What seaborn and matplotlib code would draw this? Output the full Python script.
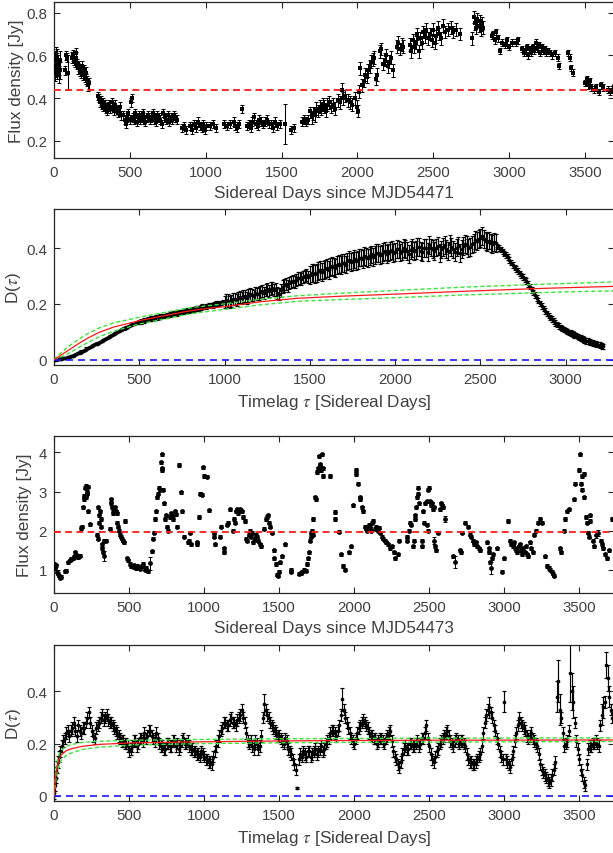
import numpy as np
import matplotlib
matplotlib.use("Agg")
import matplotlib.pyplot as plt
import seaborn as sns
from matplotlib.ticker import FuncFormatter

# ---------------------------------------------------------------------------
# Light curve 1 (days since MJD54471): flux density [Jy] and 1-sigma errors
# ---------------------------------------------------------------------------
DAYS1 = [
    2, 5, 8, 11, 14, 17, 20, 23, 26, 30, 34, 38, 42,
    72, 78, 85, 92,
    118, 124, 130, 136, 142, 148, 154, 160, 166, 172, 178, 184, 190, 196, 202, 208, 214, 220, 226, 232,
    292, 297, 302, 308, 314, 320, 326, 333, 340, 348, 356, 364, 372, 380, 388, 396, 404, 412, 420, 428, 436, 444,
    458, 466, 474, 482, 490, 498, 505, 512, 520, 528, 536, 544, 552, 560, 568, 576, 584, 592, 600, 610,
    620, 630, 640, 650, 660, 670, 680, 690, 700, 710, 720, 730, 740, 750, 760, 770, 780, 790, 800, 810,
    845, 858, 872, 898, 912, 925, 938, 952, 965, 975, 985, 995, 1005, 1030, 1048, 1066, 1118, 1140, 1160, 1185,
    1196, 1207, 1218, 1240, 1272, 1285, 1296, 1308, 1320, 1330, 1342, 1354, 1366, 1378, 1390, 1402, 1415, 1428, 1442, 1456,
    1470, 1490, 1524, 1565, 1580, 1635, 1648, 1662, 1675, 1690,
    1700, 1710, 1720, 1730, 1740, 1750, 1760, 1770, 1780, 1790, 1800, 1812, 1825, 1840, 1855, 1870, 1885, 1895, 1905, 1920,
    1935, 1950, 1965, 1985, 1995, 2005, 2012,
    2016, 2030, 2040, 2050, 2060, 2070, 2080, 2090, 2100, 2110, 2125, 2132, 2150, 2158, 2170, 2180, 2190, 2200, 2210, 2220,
    2232, 2260, 2270, 2280, 2292, 2300,
    2345, 2355, 2365, 2375, 2385, 2395, 2405, 2415, 2425, 2435, 2445, 2455, 2468, 2478, 2490, 2500, 2510, 2520, 2530, 2540,
    2552, 2565, 2580, 2595, 2615, 2630, 2650, 2675,
    2753, 2768, 2775, 2782, 2790, 2798, 2805, 2812, 2820, 2830,
    2885, 2895, 2905, 2915, 2925, 2940, 2955, 2970, 2985, 3000, 3020, 3045, 3060, 3085, 3095, 3105, 3115, 3125, 3135, 3145,
    3155, 3165, 3175, 3185, 3195, 3205, 3215, 3225, 3235, 3245, 3255, 3270, 3285, 3300, 3320, 3330, 3390, 3400, 3410, 3420,
    3500, 3510, 3520, 3530, 3540, 3560, 3575, 3590, 3605, 3620, 3650, 3665, 3680, 3690,
]
FLUX1 = [
    0.55, 0.52, 0.58, 0.60, 0.54, 0.57, 0.53, 0.59, 0.56, 0.51, 0.55, 0.58, 0.53,
    0.53, 0.60, 0.59, 0.52,
    0.59, 0.60, 0.58, 0.57, 0.59, 0.61, 0.56, 0.54, 0.55, 0.53, 0.52, 0.55, 0.51, 0.53, 0.50, 0.52, 0.49, 0.48, 0.46, 0.47,
    0.41, 0.40, 0.38, 0.39, 0.37, 0.38, 0.36, 0.37, 0.35, 0.34, 0.36, 0.37, 0.35, 0.38, 0.36, 0.34, 0.37, 0.35, 0.33, 0.34, 0.36, 0.32,
    0.32, 0.30, 0.28, 0.31, 0.33, 0.30, 0.38, 0.40, 0.31, 0.30, 0.33, 0.29, 0.31, 0.32, 0.30, 0.31, 0.33, 0.30, 0.29, 0.31,
    0.32, 0.30, 0.31, 0.33, 0.30, 0.29, 0.32, 0.31, 0.30, 0.28, 0.33, 0.31, 0.30, 0.32, 0.29, 0.31, 0.30, 0.32, 0.31, 0.30,
    0.26, 0.27, 0.25, 0.27, 0.25, 0.28, 0.26, 0.29, 0.27, 0.26, 0.28, 0.25, 0.27, 0.27, 0.28, 0.26, 0.28, 0.27, 0.28, 0.29,
    0.27, 0.26, 0.28, 0.35, 0.27, 0.28, 0.26, 0.29, 0.31, 0.28, 0.27, 0.30, 0.29, 0.28, 0.29, 0.30, 0.28, 0.28, 0.26, 0.29,
    0.27, 0.28, 0.28, 0.25, 0.26, 0.29, 0.30, 0.29, 0.30, 0.34,
    0.31, 0.33, 0.32, 0.35, 0.34, 0.36, 0.35, 0.37, 0.36, 0.34, 0.37, 0.38, 0.36, 0.37, 0.35, 0.39, 0.38, 0.44, 0.40, 0.41,
    0.39, 0.38, 0.37, 0.40, 0.36, 0.34, 0.43,
    0.54, 0.46, 0.48, 0.51, 0.50, 0.53, 0.55, 0.57, 0.58, 0.59, 0.49, 0.51, 0.62, 0.63, 0.56, 0.58, 0.60, 0.55, 0.57, 0.59,
    0.53, 0.64, 0.66, 0.63, 0.65, 0.64,
    0.65, 0.62, 0.67, 0.64, 0.66, 0.70, 0.62, 0.68, 0.66, 0.71, 0.69, 0.72, 0.68, 0.70, 0.67, 0.72, 0.66, 0.69, 0.73, 0.70,
    0.68, 0.74, 0.71, 0.72, 0.73, 0.71, 0.72, 0.70,
    0.68, 0.78, 0.75, 0.73, 0.77, 0.74, 0.76, 0.72, 0.75, 0.73,
    0.69, 0.70, 0.67, 0.71, 0.68, 0.62, 0.66, 0.65, 0.67, 0.64, 0.66, 0.66, 0.67, 0.63, 0.61, 0.62, 0.64, 0.60, 0.63, 0.61,
    0.64, 0.62, 0.66, 0.63, 0.65, 0.61, 0.64, 0.62, 0.63, 0.61, 0.62, 0.61, 0.60, 0.61, 0.59, 0.55, 0.61, 0.59, 0.54, 0.52,
    0.47, 0.49, 0.46, 0.48, 0.45, 0.44, 0.45, 0.43, 0.46, 0.45, 0.44, 0.43, 0.44, 0.45,
]
ERR1 = ([0.04] * 13 + [0.02, 0.02, 0.02, 0.08] + [0.025] * 20 + [0.02] * 22 + [0.02] * 40
        + [0.02] * 42 + [0.095] + [0.02] * 7 + [0.03] * 27 + [0.03] * 26 + [0.03] * 28
        + [0.03] * 10 + [0.015] * 40 + [0.015] * 14)
MEAN1 = 0.44

# ---------------------------------------------------------------------------
# Structure function 1: D(tau) on a 10-day lag grid, plus fitted model curves
# ---------------------------------------------------------------------------
TAU2 = list(range(0, 3221, 10))
D2 = [
    0.000, 0.001, 0.002, 0.003, 0.004, 0.005, 0.006, 0.007, 0.009, 0.010,
    0.012, 0.014, 0.017, 0.020, 0.023, 0.026, 0.029, 0.032, 0.036, 0.040,
    0.043, 0.046, 0.049, 0.052, 0.055, 0.058, 0.061, 0.064, 0.068, 0.071,
    0.074, 0.077, 0.081, 0.085, 0.089, 0.092, 0.096, 0.099, 0.103, 0.106,
    0.109, 0.112, 0.115, 0.118, 0.121, 0.124, 0.127, 0.129, 0.131, 0.134,
    0.136, 0.137, 0.139, 0.141, 0.143, 0.145, 0.146, 0.147, 0.148, 0.150,
    0.152, 0.152, 0.154, 0.156, 0.157, 0.157, 0.158, 0.161, 0.162, 0.163,
    0.165, 0.164, 0.166, 0.169, 0.171, 0.170, 0.172, 0.175, 0.176, 0.175,
    0.179, 0.182, 0.180, 0.183, 0.185, 0.184, 0.187, 0.190, 0.188, 0.191,
    0.193, 0.195, 0.196, 0.194, 0.197, 0.201, 0.203, 0.200, 0.204, 0.206,
    0.207, 0.213, 0.212, 0.206, 0.211, 0.218, 0.218, 0.214, 0.221, 0.224,
    0.220, 0.226, 0.228, 0.222, 0.230, 0.235, 0.232, 0.229, 0.239, 0.236,
    0.237, 0.243, 0.245, 0.240, 0.249, 0.252, 0.247, 0.255, 0.256, 0.250,
    0.252, 0.238, 0.236, 0.248, 0.262, 0.266, 0.271, 0.265, 0.274, 0.279,
    0.282, 0.278, 0.286, 0.291, 0.294, 0.288, 0.296, 0.301, 0.303, 0.297,
    0.305, 0.310, 0.312, 0.306, 0.311, 0.318, 0.320, 0.314, 0.321, 0.326,
    0.328, 0.322, 0.331, 0.336, 0.333, 0.329, 0.340, 0.344, 0.338, 0.345,
    0.347, 0.341, 0.352, 0.356, 0.349, 0.355, 0.361, 0.354, 0.358, 0.366,
    0.366, 0.360, 0.371, 0.368, 0.365, 0.373, 0.377, 0.369, 0.374, 0.381,
    0.382, 0.375, 0.379, 0.386, 0.388, 0.378, 0.384, 0.391, 0.392, 0.383,
    0.387, 0.396, 0.395, 0.384, 0.390, 0.399, 0.398, 0.388, 0.380, 0.393,
    0.401, 0.389, 0.394, 0.405, 0.403, 0.391, 0.385, 0.400, 0.399, 0.386,
    0.412, 0.402, 0.396, 0.389, 0.402, 0.408, 0.383, 0.395, 0.404, 0.410,
    0.398, 0.390, 0.414, 0.405, 0.395, 0.386, 0.402, 0.409, 0.381, 0.396,
    0.406, 0.415, 0.411, 0.400, 0.404, 0.413, 0.418, 0.428, 0.425, 0.431,
    0.437, 0.442, 0.432, 0.426, 0.421, 0.427, 0.418, 0.414, 0.423, 0.417,
    0.405, 0.401, 0.395, 0.388, 0.380, 0.375, 0.368, 0.357, 0.348, 0.339,
    0.330, 0.325, 0.318, 0.309, 0.302, 0.296, 0.288, 0.281, 0.272, 0.262,
    0.250, 0.241, 0.232, 0.222, 0.212, 0.202, 0.192, 0.183, 0.175, 0.166,
    0.158, 0.151, 0.145, 0.138, 0.132, 0.126, 0.121, 0.116, 0.112, 0.108,
    0.104, 0.101, 0.098, 0.095, 0.092, 0.089, 0.086, 0.083, 0.080, 0.077,
    0.074, 0.071, 0.068, 0.066, 0.064, 0.062, 0.060, 0.058, 0.056, 0.054,
    0.052, 0.050, 0.048,
]
ERR2 = [0.004] * 50 + [0.008] * 50 + [0.022] * 50 + [0.032] * 110 + [0.01] * 63

FIT_TAU2 = [0, 50, 100, 150, 200, 265, 350, 500, 600, 750, 850, 1000, 1200, 1425, 1700, 2000, 2400, 2840, 3000, 3300]
FIT2 = [0, 0.020, 0.040, 0.060, 0.078, 0.098, 0.117, 0.140, 0.152, 0.170, 0.180, 0.190, 0.207, 0.220, 0.228,
        0.235, 0.245, 0.255, 0.258, 0.263]
FIT2_HI = [0, 0.030, 0.054, 0.075, 0.094, 0.114, 0.132, 0.152, 0.164, 0.181, 0.190, 0.200, 0.216, 0.229, 0.239,
           0.248, 0.260, 0.270, 0.273, 0.279]
FIT2_LO = [0, 0.012, 0.028, 0.045, 0.062, 0.082, 0.102, 0.128, 0.140, 0.159, 0.169, 0.180, 0.196, 0.209, 0.216,
           0.222, 0.232, 0.240, 0.243, 0.247]

# ---------------------------------------------------------------------------
# Light curve 2 (days since MJD54473)
# ---------------------------------------------------------------------------
DAYS3 = [
    0, 4, 8, 12, 18, 25, 32, 40, 46, 72,
    80, 95, 105, 115, 125, 135, 142, 148, 155, 162,
    170, 183, 187, 195, 198, 202, 206, 210, 214, 218,
    222, 226, 229, 238, 285, 290, 294, 298, 302, 306,
    310, 313, 318, 322, 326, 330, 335, 345, 372, 378,
    382, 386, 390, 395, 400, 406, 412, 418, 422, 428,
    434, 440, 446, 452, 458, 465, 470, 484, 492, 506,
    516, 526, 536, 546, 556, 566, 576, 586, 596, 606,
    616, 628, 640, 655, 662, 664, 673, 680, 686, 692,
    698, 704, 713, 718, 720, 722, 729, 736, 742, 748,
    755, 762, 770, 778, 786, 795, 803, 810, 818, 836,
    847, 851, 863, 892, 897, 907, 910, 952, 956, 963,
    974, 978, 985, 996, 999, 1019, 1030, 1063, 1066, 1074,
    1108, 1110, 1130, 1133, 1152, 1156, 1175, 1195, 1200, 1204,
    1210, 1218, 1228, 1242, 1250, 1262, 1272, 1280, 1288, 1296,
    1304, 1312, 1320, 1328, 1336, 1344, 1352, 1360, 1370, 1380,
    1398, 1410, 1418, 1426, 1434, 1442, 1453, 1463, 1467, 1476,
    1485, 1490, 1498, 1509, 1520, 1542, 1576, 1580, 1632, 1645,
    1655, 1668, 1676, 1687, 1693, 1698, 1704, 1710, 1715, 1720,
    1724, 1728, 1740, 1746, 1755, 1760, 1765, 1770, 1775, 1780,
    1785, 1790, 1795, 1838, 1871, 1875, 1900, 1911, 1926, 1937,
    1967, 1982, 1993, 2011, 2014, 2027, 2038, 2042, 2049, 2060,
    2071, 2080, 2088, 2096, 2104, 2112, 2120, 2128, 2136, 2146,
    2156, 2166, 2175, 2185, 2195, 2205, 2215, 2228, 2240, 2250,
    2262, 2275, 2294, 2300, 2350, 2355, 2362, 2372, 2380, 2394,
    2397, 2405, 2408, 2414, 2418, 2422, 2427, 2434, 2450, 2453,
    2461, 2465, 2472, 2483, 2486, 2489, 2495, 2500, 2505, 2510,
    2516, 2527, 2530, 2533, 2539, 2548, 2561, 2572, 2578, 2585,
    2592, 2605, 2661, 2670, 2705, 2709, 2716, 2739, 2761, 2770,
    2780, 2790, 2800, 2810, 2820, 2830, 2838, 2884, 2895, 2899,
    2906, 2910, 2917, 2928, 2951, 2984, 2995, 3028, 3040, 3048,
    3056, 3064, 3072, 3080, 3088, 3096, 3104, 3112, 3120, 3128,
    3136, 3144, 3152, 3160, 3170, 3180, 3190, 3198, 3210, 3222,
    3235, 3251, 3273, 3285, 3295, 3305, 3315, 3322, 3330, 3373,
    3377, 3396, 3407, 3418, 3428, 3462, 3474, 3496, 3503, 3512,
    3515, 3520, 3528, 3531, 3545, 3552, 3558, 3564, 3570, 3574,
    3591, 3595, 3610, 3625, 3642, 3650, 3660, 3674, 3685, 3696,
    3718,
]
FLUX3 = [
    1.15, 1.10, 1.05, 1.12, 0.95, 0.90, 0.85, 0.80, 0.82, 0.96,
    0.98, 1.20, 1.25, 1.28, 1.30, 1.33, 1.45, 1.38, 1.35, 1.33,
    1.36, 2.07, 2.10, 2.60, 2.80, 2.90, 3.10, 2.85, 3.15, 2.95,
    3.00, 3.12, 2.50, 2.16, 1.90, 1.80, 2.60, 2.40, 2.20, 2.50,
    2.30, 2.10, 1.65, 1.55, 1.45, 1.35, 1.75, 1.75, 2.05, 2.80,
    2.70, 2.60, 2.55, 2.45, 2.50, 2.60, 2.50, 2.45, 2.20, 2.10,
    2.00, 1.90, 1.85, 1.80, 1.75, 1.70, 2.25, 1.30, 1.25, 1.15,
    1.10, 1.08, 1.12, 1.05, 1.10, 1.07, 1.03, 1.10, 1.15, 1.00,
    1.05, 0.96, 1.17, 1.47, 1.80, 1.95, 2.30, 2.50, 2.85, 2.95,
    3.10, 3.05, 3.75, 3.60, 3.55, 3.95, 3.05, 2.70, 2.30, 2.40,
    2.10, 2.00, 2.35, 2.45, 2.38, 2.30, 2.50, 2.42, 2.10, 3.68,
    2.98, 2.50, 1.85, 1.70, 1.75, 1.95, 1.65, 1.65, 1.70, 2.35,
    2.95, 2.93, 2.92, 3.62, 3.40, 3.38, 2.52, 1.95, 1.85, 1.65,
    1.85, 2.10, 1.55, 1.45, 2.15, 2.20, 2.55, 2.00, 2.30, 2.20,
    2.50, 2.55, 2.45, 2.55, 2.50, 2.35, 2.25, 1.80, 1.75, 1.90,
    2.00, 1.85, 1.95, 1.70, 1.80, 1.90, 1.85, 1.75, 1.65, 1.60,
    2.05, 2.30, 2.35, 2.40, 2.20, 2.10, 1.95, 1.50, 1.30, 1.15,
    0.88, 0.85, 0.95, 1.20, 1.35, 1.65, 1.00, 0.95, 0.90, 0.92,
    0.95, 1.00, 0.98, 1.15, 1.30, 1.45, 1.75, 1.85, 1.95, 2.00,
    1.90, 2.30, 2.85, 2.80, 3.50, 3.60, 3.90, 3.70, 3.65, 3.55,
    3.95, 3.60, 3.40, 3.40, 2.48, 2.30, 1.97, 1.40, 1.10, 1.00,
    1.45, 1.60, 2.65, 3.55, 3.45, 3.20, 2.85, 2.80, 2.60, 2.50,
    2.10, 2.05, 2.00, 2.15, 2.10, 2.00, 2.20, 2.25, 2.05, 2.10,
    2.00, 2.08, 1.95, 1.85, 1.80, 1.75, 1.70, 1.65, 1.55, 1.60,
    1.45, 1.30, 1.40, 1.75, 1.75, 1.85, 2.00, 2.20, 2.15, 1.60,
    1.75, 2.30, 2.40, 2.60, 2.85, 2.95, 3.10, 2.70, 1.75, 1.60,
    2.50, 2.20, 2.70, 2.75, 2.15, 2.00, 3.05, 3.10, 2.75, 2.65,
    2.70, 2.55, 2.60, 1.75, 1.60, 1.50, 1.95, 2.55, 2.70, 2.65,
    2.60, 2.30, 1.35, 1.20, 1.50, 1.45, 1.95, 2.20, 2.10, 1.90,
    1.85, 1.75, 1.65, 1.70, 1.60, 1.55, 1.50, 1.70, 1.55, 1.45,
    1.20, 1.05, 1.30, 1.40, 1.55, 0.95, 1.30, 2.25, 1.75, 1.65,
    1.60, 1.70, 1.55, 1.50, 1.45, 1.60, 1.65, 1.50, 1.40, 1.55,
    1.45, 1.60, 1.40, 1.35, 1.70, 1.55, 1.45, 1.90, 2.00, 2.20,
    2.30, 2.20, 1.35, 1.10, 1.05, 1.00, 0.95, 0.90, 0.85, 1.55,
    1.45, 2.00, 2.30, 2.50, 2.55, 2.80, 3.20, 3.55, 3.95, 3.20,
    3.05, 3.40, 3.45, 2.85, 2.35, 2.20, 1.95, 1.85, 2.25, 2.40,
    1.75, 1.60, 1.90, 1.95, 1.75, 1.65, 1.55, 1.40, 1.30, 1.50,
    2.30,
]
ERR3_DEFAULT = 0.04
BIG_ERR_DAYS3 = [330, 640, 836, 2533, 2605, 2670, 2910, 3610, 3625]
BIG_ERR3 = [0.12, 0.16, 0.06, 0.10, 0.08, 0.15, 0.16, 0.08, 0.08]
MEAN3 = 1.96

# ---------------------------------------------------------------------------
# Structure function 2 (10-day lag grid after a finer start)
# ---------------------------------------------------------------------------
TAU4 = [0, 5, 10, 15, 20, 25, 30, 40, 50, 60, 70, 80, 90] + list(range(100, 3721, 10))
D4 = [
    0.01, 0.04, 0.07, 0.09, 0.11, 0.13, 0.15, 0.17, 0.19, 0.21, 0.22, 0.24, 0.25,
    0.23, 0.25, 0.26, 0.28, 0.25, 0.23, 0.27, 0.25, 0.24, 0.26,
    0.26, 0.28, 0.30, 0.32, 0.28, 0.25, 0.23, 0.22, 0.26, 0.27,
    0.28, 0.30, 0.31, 0.29, 0.30, 0.31, 0.29, 0.28, 0.28, 0.27,
    0.26, 0.25, 0.24, 0.23, 0.22, 0.21, 0.21, 0.20, 0.20, 0.19,
    0.17, 0.18, 0.19, 0.21, 0.21, 0.19, 0.20, 0.22, 0.22, 0.21,
    0.24, 0.22, 0.23, 0.25, 0.25, 0.23, 0.22, 0.21, 0.24, 0.22,
    0.20, 0.19, 0.19, 0.18, 0.18, 0.20, 0.20, 0.19, 0.19, 0.21,
    0.21, 0.19, 0.20, 0.18, 0.19, 0.21, 0.22, 0.20, 0.20, 0.21,
    0.19, 0.18, 0.18, 0.17, 0.17, 0.16, 0.16, 0.15, 0.17, 0.16,
    0.15, 0.14, 0.14, 0.13, 0.13, 0.12, 0.15, 0.17, 0.19, 0.21,
    0.23, 0.25, 0.26, 0.28, 0.28, 0.27, 0.27, 0.29, 0.30, 0.28,
    0.28, 0.27, 0.29, 0.30, 0.31, 0.33, 0.30, 0.28, 0.24, 0.21,
    0.20, 0.21, 0.19, 0.18, 0.21, 0.20, 0.18, 0.19, 0.23, 0.30,
    0.35, 0.33, 0.31, 0.30, 0.28, 0.27, 0.26, 0.25, 0.24, 0.23,
    0.23, 0.22, 0.21, 0.20, 0.22, 0.21, 0.18, 0.17, 0.16, 0.14,
    0.12, 0.10, 0.03, 0.14, 0.16, 0.15, 0.17, 0.16, 0.15, 0.17,
    0.17, 0.15, 0.16, 0.17, 0.18, 0.16, 0.17, 0.18, 0.19, 0.17,
    0.18, 0.20, 0.21, 0.22, 0.24, 0.25, 0.25, 0.24, 0.23, 0.25,
    0.27, 0.31, 0.37, 0.33, 0.30, 0.28, 0.26, 0.24, 0.22, 0.21,
    0.20, 0.22, 0.24, 0.26, 0.27, 0.28, 0.29, 0.28, 0.27, 0.26,
    0.24, 0.23, 0.23, 0.22, 0.22, 0.20, 0.21, 0.22, 0.22, 0.21,
    0.20, 0.22, 0.23, 0.24, 0.25, 0.21, 0.17, 0.15, 0.14, 0.12,
    0.11, 0.13, 0.16, 0.18, 0.19, 0.18, 0.18, 0.20, 0.20, 0.19,
    0.19, 0.20, 0.21, 0.19, 0.20, 0.22, 0.22, 0.24, 0.27, 0.22,
    0.19, 0.16, 0.14, 0.13, 0.15, 0.17, 0.18, 0.20, 0.21, 0.22,
    0.23, 0.24, 0.25, 0.23, 0.21, 0.20, 0.19, 0.21, 0.22, 0.21,
    0.20, 0.21, 0.21, 0.20, 0.19, 0.16, 0.14, 0.13, 0.13, 0.12,
    0.12, 0.13, 0.14, 0.15, 0.16, 0.19, 0.24, 0.28, 0.31, 0.33,
    0.34, 0.32, 0.30, 0.27, 0.25, 0.22, 0.20, 0.17, 0.15, 0.14,
    0.36, 0.14, 0.13, 0.12, 0.11, 0.14, 0.17, 0.21, 0.24, 0.27,
    0.30, 0.28, 0.27, 0.26, 0.25, 0.23, 0.22, 0.23, 0.24, 0.22,
    0.21, 0.20, 0.19, 0.16, 0.12, 0.10, 0.09, 0.08, 0.07, 0.06,
    0.05, 0.06, 0.08, 0.10, 0.13, 0.38, 0.44, 0.33, 0.30, 0.24,
    0.19, 0.20, 0.21, 0.25, 0.47, 0.40, 0.36, 0.28, 0.21, 0.18,
    0.14, 0.10, 0.08, 0.05, 0.04, 0.12, 0.18, 0.19, 0.19, 0.20,
    0.20, 0.21, 0.20, 0.19, 0.27, 0.31, 0.34, 0.36, 0.50, 0.45,
    0.38, 0.33, 0.30,
]
ERR4_DEFAULT = 0.022
BIG_ERR_TAU4 = [1400, 1620, 1920, 2900, 3000, 3350, 3360, 3370, 3440, 3450, 3460,
                3650, 3660, 3680, 3690, 3700]
BIG_ERR4 = [0.04, 0.004, 0.045, 0.04, 0.04, 0.06, 0.08, 0.06, 0.11, 0.07, 0.06,
            0.04, 0.04, 0.05, 0.05, 0.04]

FIT_TAU4 = [0, 5, 10, 15, 25, 38, 50, 82, 120, 193, 300, 527, 1000, 1638, 2500, 3730]
FIT4 = [0, 0.035, 0.065, 0.090, 0.122, 0.147, 0.158, 0.173, 0.181, 0.190, 0.197, 0.203, 0.207, 0.211, 0.213, 0.214]
FIT4_HI = [0, 0.045, 0.080, 0.110, 0.142, 0.165, 0.175, 0.190, 0.197, 0.205, 0.209, 0.213, 0.216, 0.219, 0.221, 0.222]
FIT4_LO = [0, 0.022, 0.045, 0.070, 0.100, 0.125, 0.138, 0.155, 0.165, 0.178, 0.186, 0.195, 0.200, 0.204, 0.206, 0.208]

# ---------------------------------------------------------------------------
sns.set_theme(style="ticks")
plt.rcParams["font.family"] = ["Liberation Sans", "DejaVu Sans"]
plt.rcParams["mathtext.fontset"] = "stix"

W, H = 613, 854
fig = plt.figure(figsize=(W / 100, H / 100), dpi=100)
fig.patch.set_facecolor("white")


def box(left, top, right, bottom):
    return [left / W, 1 - bottom / H, (right - left) / W, (bottom - top) / H]


TXT = "#404040"
SPINE = "#262626"
fmt = FuncFormatter(lambda v, p: f"{v:g}")


def style(ax, xlim, ylim, xticks, yticks, xlabel, ylabel, ylabelpad):
    ax.set_xlim(*xlim)
    ax.set_ylim(*ylim)
    ax.set_xticks(xticks)
    ax.set_yticks(yticks)
    ax.xaxis.set_major_formatter(fmt)
    ax.yaxis.set_major_formatter(fmt)
    ax.tick_params(direction="in", top=True, right=True, length=4.5, width=0.8,
                   color=SPINE, labelcolor=TXT, labelsize=10.8, pad=5)
    for s in ax.spines.values():
        s.set_color(SPINE)
        s.set_linewidth(0.9)
    ax.set_xlabel(xlabel, fontsize=12.3, color=TXT, labelpad=4.5)
    ax.set_ylabel(ylabel, fontsize=12.3, color=TXT, labelpad=ylabelpad)


def points(ax, x, y, err, marker, size, cap, elw=0.7):
    ax.errorbar(x, y, yerr=err, fmt="none", ecolor="black", elinewidth=elw,
                capsize=cap, capthick=elw, zorder=2)
    sns.scatterplot(x=x, y=y, ax=ax, color="black", marker=marker, s=size,
                    linewidth=0, zorder=3, legend=False)


def fit_curves(ax, tau, mid, hi, lo):
    for ys in (hi, lo):
        sns.lineplot(x=tau, y=ys, ax=ax, color="#39e639", lw=1.0, estimator=None,
                     sort=False, ls=(0, (3, 1.8)), zorder=4)
    sns.lineplot(x=tau, y=mid, ax=ax, color="#ff1a1a", lw=0.9, estimator=None,
                 sort=False, zorder=5)


days_ticks = np.arange(0, 3501, 500)

# Panel 1 – flux density light curve
ax1 = fig.add_axes(box(54, 3, 614, 159))
points(ax1, DAYS1, FLUX1, ERR1, "s", 8, 1.2, elw=0.75)
ax1.axhline(MEAN1, color="#ff1a1a", lw=1.3, ls=(0, (3.8, 2.4)), zorder=4)
style(ax1, (0, 3691), (0.12, 0.85), days_ticks, [0.2, 0.4, 0.6, 0.8],
      "Sidereal Days since MJD54471", "Flux density [Jy]", 1.5)

# Panel 2 – structure function
ax2 = fig.add_axes(box(54, 210, 614, 366))
points(ax2, TAU2, D2, ERR2, "o", 7, 1.2, elw=0.85)
fit_curves(ax2, FIT_TAU2, FIT2, FIT2_HI, FIT2_LO)
ax2.axhline(0, color="#1a1aff", lw=1.2, ls=(0, (4.2, 3)), zorder=4)
style(ax2, (0, 3283), (-0.019, 0.54), np.arange(0, 3001, 500), [0, 0.2, 0.4],
      r"Timelag $\tau$ [Sidereal Days]", r"D($\tau$)", 2.5)

# Panel 3 – flux density light curve
err3 = np.full(len(DAYS3), ERR3_DEFAULT)
d3 = np.array(DAYS3)
for d, e in zip(BIG_ERR_DAYS3, BIG_ERR3):
    err3[d3 == d] = e
ax3 = fig.add_axes(box(54, 437, 614, 594))
points(ax3, DAYS3, FLUX3, err3, "o", 12, 1.2)
ax3.axhline(MEAN3, color="#ff1a1a", lw=1.3, ls=(0, (3.8, 2.4)), zorder=4)
style(ax3, (0, 3731), (0.41, 4.42), days_ticks, [1, 2, 3, 4],
      "Sidereal Days since MJD54473", "Flux density [Jy]", 5)

# Panel 4 – structure function
err4 = np.full(len(TAU4), ERR4_DEFAULT)
t4 = np.array(TAU4)
for t, e in zip(BIG_ERR_TAU4, BIG_ERR4):
    err4[t4 == t] = e
ax4 = fig.add_axes(box(54, 646, 614, 802))
points(ax4, TAU4, D4, err4, "o", 7, 1.2, elw=0.85)
fit_curves(ax4, FIT_TAU4, FIT4, FIT4_HI, FIT4_LO)
ax4.axhline(0, color="#1a1aff", lw=1.2, ls=(0, (4.2, 3)), zorder=4)
style(ax4, (0, 3731), (-0.02, 0.578), days_ticks, [0, 0.2, 0.4],
      r"Timelag $\tau$ [Sidereal Days]", r"D($\tau$)", 2.5)

assert len(DAYS1) == len(FLUX1) == len(ERR1)
assert len(TAU2) == len(D2) == len(ERR2)
assert len(DAYS3) == len(FLUX3)
assert len(TAU4) == len(D4)

fig.savefig("out.png", dpi=100, facecolor="white")
